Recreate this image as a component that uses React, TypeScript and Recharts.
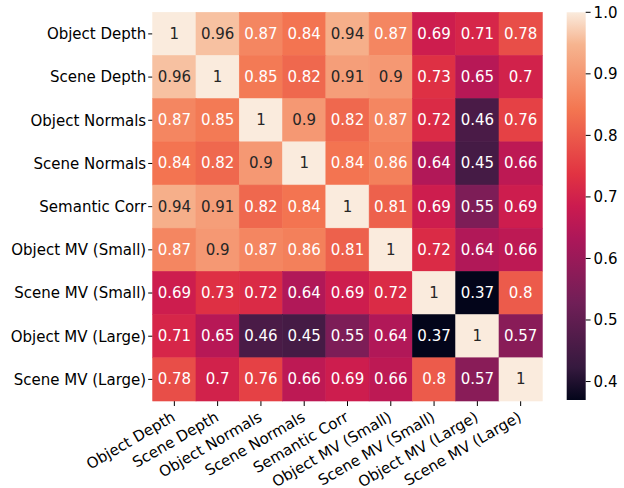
import React from 'react';
import { ScatterChart, Scatter, XAxis, YAxis, BarChart, Bar } from 'recharts';

const labels = [
    'Object Depth', 'Scene Depth', 'Object Normals', 'Scene Normals', 'Semantic Corr',
    'Object MV (Small)', 'Scene MV (Small)', 'Object MV (Large)', 'Scene MV (Large)',
];

const matrix = [
    [1, 0.96, 0.87, 0.84, 0.94, 0.87, 0.69, 0.71, 0.78],
    [0.96, 1, 0.85, 0.82, 0.91, 0.9, 0.73, 0.65, 0.7],
    [0.87, 0.85, 1, 0.9, 0.82, 0.87, 0.72, 0.46, 0.76],
    [0.84, 0.82, 0.9, 1, 0.84, 0.86, 0.64, 0.45, 0.66],
    [0.94, 0.91, 0.82, 0.84, 1, 0.81, 0.69, 0.55, 0.69],
    [0.87, 0.9, 0.87, 0.86, 0.81, 1, 0.72, 0.64, 0.66],
    [0.69, 0.73, 0.72, 0.64, 0.69, 0.72, 1, 0.37, 0.8],
    [0.71, 0.65, 0.46, 0.45, 0.55, 0.64, 0.37, 1, 0.57],
    [0.78, 0.7, 0.76, 0.66, 0.69, 0.66, 0.8, 0.57, 1],
];

const colorbarTicks = [0.4, 0.5, 0.6, 0.7, 0.8, 0.9, 1.0];

// seaborn "rocket" approximated by a few stops
const rocketStops: [number, string][] = [
    [0, '#03051a'],
    [0.083, '#35193e'],
    [0.25, '#701f57'],
    [0.417, '#ad1759'],
    [0.5, '#cb1b4f'],
    [0.583, '#e13342'],
    [0.75, '#f37651'],
    [0.917, '#f6b48f'],
    [1, '#faebdd'],
];

const allValues = matrix.flat();
const VMIN = Math.min(...allValues);
const VMAX = Math.max(...allValues);

const hexToRgb = (h: string) => [1, 3, 5].map((i) => parseInt(h.slice(i, i + 2), 16));

const rocket = (t: number) => {
    const c = Math.max(0, Math.min(1, t));
    for (let i = 1; i < rocketStops.length; i++) {
        const [t1, h1] = rocketStops[i];
        if (c <= t1) {
            const [t0, h0] = rocketStops[i - 1];
            const f = (c - t0) / (t1 - t0);
            const a = hexToRgb(h0);
            const b = hexToRgb(h1);
            const rgb = a.map((v, k) => Math.round(v + (b[k] - v) * f));
            return `rgb(${rgb.join(',')})`;
        }
    }
    return rocketStops[rocketStops.length - 1][1];
};

const luminance = (rgbStr: string) => {
    const nums = rgbStr.startsWith('#') ? hexToRgb(rgbStr) : rgbStr.match(/\d+/g)!.map(Number);
    const lin = nums.map((v) => {
        const c = v / 255;
        return c <= 0.03928 ? c / 12.92 : Math.pow((c + 0.055) / 1.055, 2.4);
    });
    return 0.2126 * lin[0] + 0.7152 * lin[1] + 0.0722 * lin[2];
};

const cells = matrix.flatMap((row, i) =>
    row.map((v, j) => ({ x: j + 0.5, y: i + 0.5, v }))
);
const centerTicks = labels.map((_, i) => i + 0.5);

const W = 624;
const H = 488;
const PLOT_LEFT = 152.7;
const PLOT_RIGHT = 542.3;
const PLOT_TOP = 12.3;
const PLOT_BOTTOM = 401;
const CW = (PLOT_RIGHT - PLOT_LEFT) / labels.length;
const CH = (PLOT_BOTTOM - PLOT_TOP) / labels.length;
const FONT = '"DejaVu Sans", sans-serif';
const FS = 15;

const CellShape = (props: any) => {
    const { cx, cy, payload } = props;
    const fill = rocket((payload.v - VMIN) / (VMAX - VMIN));
    const txt = luminance(fill) > 0.408 ? '#262626' : '#ffffff';
    return (
        <g>
            <rect x={cx - CW / 2} y={cy - CH / 2} width={CW} height={CH} fill={fill} stroke={fill} strokeWidth={0.6} />
            <text x={cx} y={cy} textAnchor="middle" dominantBaseline="central" fill={txt}
                fontFamily={FONT} fontSize={FS}>
                {String(payload.v)}
            </text>
        </g>
    );
};

const XTick = (props: any) => {
    const { x, y, payload } = props;
    const label = labels[Math.round(payload.value - 0.5)];
    const bx = x + 2;
    const by = y + 14;
    return (
        <text x={bx} y={by} textAnchor="end" transform={`rotate(-30, ${bx}, ${by})`}
            fontFamily={FONT} fontSize={FS} fill="#000">
            {label}
        </text>
    );
};

export default function App() {
    return (
        <div style={{ position: 'absolute', left: 0, top: 0, width: W, height: H, background: '#fff' }}>
            <div style={{ position: 'absolute', left: 0, top: 0 }}>
                <ScatterChart width={W} height={H}
                    margin={{ top: PLOT_TOP, right: W - PLOT_RIGHT, bottom: 0, left: PLOT_LEFT - 140 }}>
                    <XAxis type="number" dataKey="x" domain={[0, 9]} ticks={centerTicks}
                        axisLine={false} tickSize={5} tickMargin={0}
                        tickLine={{ stroke: '#000', strokeWidth: 1 }}
                        height={H - PLOT_BOTTOM} interval={0} tick={<XTick />} />
                    <YAxis type="number" dataKey="y" domain={[0, 9]} reversed ticks={centerTicks}
                        axisLine={false} tickSize={4.5} tickMargin={2} width={140} interval={0}
                        tickLine={{ stroke: '#000', strokeWidth: 1 }}
                        tickFormatter={(v: number) => labels[Math.round(v - 0.5)]}
                        tick={{ fill: '#000', fontSize: FS, fontFamily: FONT }} />
                    <Scatter data={cells} shape={<CellShape />} isAnimationActive={false} />
                </ScatterChart>
            </div>
            <div style={{ position: 'absolute', left: 0, top: 0 }}>
                <BarChart width={W} height={H} data={[{ name: 'cb', range: [VMIN, VMAX] }]}
                    barCategoryGap={0}
                    margin={{ top: PLOT_TOP, right: W - 585.7 - 38, bottom: H - 400, left: 566.7 }}>
                    <defs>
                        <linearGradient id="rocketGrad" x1="0" y1="1" x2="0" y2="0">
                            {rocketStops.map(([t, c]) => (
                                <stop key={t} offset={`${t * 100}%`} stopColor={c} />
                            ))}
                        </linearGradient>
                    </defs>
                    <XAxis dataKey="name" hide />
                    <YAxis orientation="right" type="number" domain={[VMIN, VMAX]} ticks={colorbarTicks}
                        width={38} axisLine={false} tickSize={4.9} tickMargin={3}
                        tickLine={{ stroke: '#000', strokeWidth: 1 }}
                        tickFormatter={(v: number) => v.toFixed(1)}
                        tick={{ fill: '#000', fontSize: FS, fontFamily: FONT, textAnchor: 'start' }} />
                    <Bar dataKey="range" fill="url(#rocketGrad)" isAnimationActive={false} />
                </BarChart>
            </div>
        </div>
    );
}
